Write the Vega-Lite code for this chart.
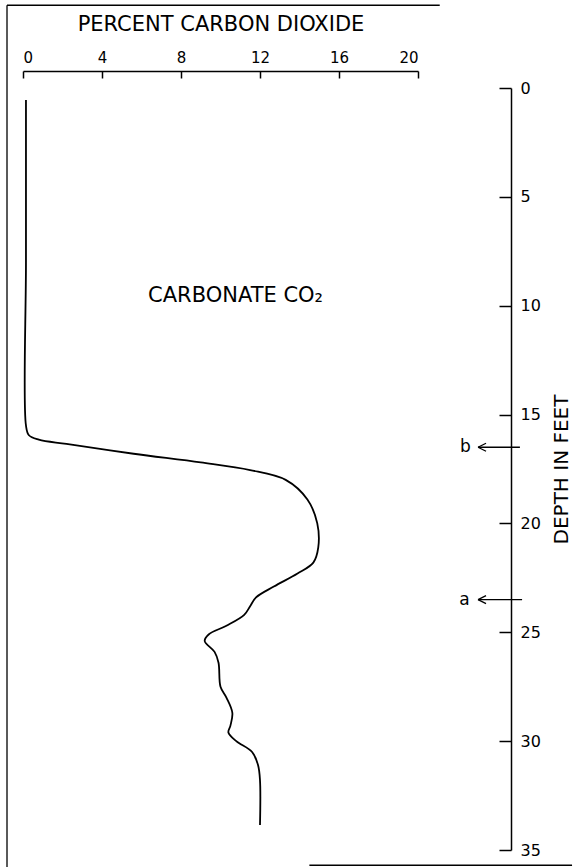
{
  "$schema": "https://vega.github.io/schema/vega-lite/v6.json",
  "width": 395,
  "height": 762,
  "autosize": {"type": "none"},
  "padding": {"left": 23, "top": 88, "right": 155, "bottom": 17},
  "background": "white",
  "config": {
    "view": {"stroke": null},
    "font": "DejaVu Sans",
    "axis": {
      "grid": false,
      "domainColor": "black",
      "domainWidth": 1.5,
      "tickColor": "black",
      "tickWidth": 1.5,
      "labelColor": "black",
      "titleColor": "black",
      "labelFont": "DejaVu Sans",
      "titleFont": "DejaVu Sans",
      "titleFontWeight": "normal"
    }
  },
  "datasets": {
    "curve": [
      {"co2": 0.15, "depth": 0.55},
      {"co2": 0.15, "depth": 8.0},
      {"co2": 0.15, "depth": 15.5},
      {"co2": 0.3, "depth": 15.95},
      {"co2": 0.8, "depth": 16.15},
      {"co2": 2.2, "depth": 16.35},
      {"co2": 5.6, "depth": 16.8},
      {"co2": 9.0, "depth": 17.2},
      {"co2": 11.5, "depth": 17.55},
      {"co2": 13.3, "depth": 18.0},
      {"co2": 14.4, "depth": 18.9},
      {"co2": 14.9, "depth": 20.0},
      {"co2": 14.95, "depth": 21.1},
      {"co2": 14.7, "depth": 21.8},
      {"co2": 13.9, "depth": 22.3},
      {"co2": 12.7, "depth": 22.9},
      {"co2": 11.8, "depth": 23.4},
      {"co2": 11.5, "depth": 23.8},
      {"co2": 11.2, "depth": 24.2},
      {"co2": 10.3, "depth": 24.7},
      {"co2": 9.4, "depth": 25.1},
      {"co2": 9.2, "depth": 25.4},
      {"co2": 9.7, "depth": 25.9},
      {"co2": 9.9, "depth": 26.4},
      {"co2": 10.0, "depth": 27.5},
      {"co2": 10.3, "depth": 28.0},
      {"co2": 10.6, "depth": 28.7},
      {"co2": 10.5, "depth": 29.3},
      {"co2": 10.4, "depth": 29.6},
      {"co2": 10.8, "depth": 30.0},
      {"co2": 11.6, "depth": 30.5},
      {"co2": 11.9, "depth": 31.1},
      {"co2": 12.0, "depth": 31.8},
      {"co2": 12.0, "depth": 33.85}
    ],
    "labels": [
      {"co2": 10.76, "depth": 9.55, "text": "CARBONATE CO₂"}
    ],
    "arrows": [
      {"label": "b", "depth": 16.5, "co2": 23.04, "co2_end": 25.16},
      {"label": "a", "depth": 23.5, "co2": 23.04, "co2_end": 25.27}
    ],
    "arrowLabels": [
      {"label": "b", "depth": 16.5, "co2": 22.4},
      {"label": "a", "depth": 23.5, "co2": 22.35}
    ],
    "frame": [
      {"co2": -0.81, "co2_end": -0.81, "depth": -3.8, "depth_end": 35.8},
      {"co2": -0.81, "co2_end": 21.1, "depth": -3.8, "depth_end": -3.8},
      {"co2": 14.5, "co2_end": 27.8, "depth": 35.7, "depth_end": 35.7}
    ]
  },
  "encoding": {
    "x": {
      "field": "co2",
      "type": "quantitative",
      "scale": {"domain": [0, 20], "nice": false, "zero": false},
      "axis": {
        "orient": "top",
        "values": [0, 4, 8, 12, 16, 20],
        "title": "PERCENT CARBON DIOXIDE",
        "titleFontSize": 21,
        "titlePadding": 16,
        "offset": 17,
        "tickSize": -7,
        "labelPadding": 13,
        "labelFontSize": 15
      }
    },
    "y": {
      "field": "depth",
      "type": "quantitative",
      "scale": {"domain": [0, 35], "nice": false, "zero": false, "reverse": true},
      "axis": {
        "orient": "right",
        "offset": 93,
        "values": [0, 5, 10, 15, 20, 25, 30, 35],
        "tickSize": -12,
        "labelPadding": 21,
        "labelFontSize": 16,
        "title": "DEPTH IN FEET",
        "titleAngle": 270,
        "titleFontSize": 20,
        "titlePadding": 31
      }
    }
  },
  "layer": [
    {
      "data": {"name": "curve"},
      "mark": {"type": "line", "interpolate": "catmull-rom", "color": "black", "strokeWidth": 1.8},
      "encoding": {
        "order": {"field": "depth", "type": "quantitative"}
      }
    },
    {
      "data": {"name": "labels"},
      "mark": {"type": "text", "fontSize": 21, "font": "DejaVu Sans", "color": "black", "align": "center", "baseline": "middle"},
      "encoding": {
        "text": {"field": "text"}
      }
    },
    {
      "data": {"name": "arrows"},
      "mark": {"type": "rule", "color": "black", "strokeWidth": 1.3},
      "encoding": {
        "x2": {"field": "co2_end"}
      }
    },
    {
      "data": {"name": "arrows"},
      "mark": {"type": "point", "shape": "M 0 0 L 2 -1 M 0 0 L 2 1", "filled": false, "color": "black", "strokeWidth": 1.3, "size": 64, "opacity": 1}
    },
    {
      "data": {"name": "arrowLabels"},
      "mark": {"type": "text", "fontSize": 17, "font": "DejaVu Sans", "color": "black", "align": "center", "baseline": "middle"},
      "encoding": {
        "text": {"field": "label"}
      }
    },
    {
      "data": {"name": "frame"},
      "mark": {"type": "rule", "color": "black", "strokeWidth": 1.3},
      "encoding": {
        "x2": {"field": "co2_end"},
        "y2": {"field": "depth_end"}
      }
    }
  ]
}
